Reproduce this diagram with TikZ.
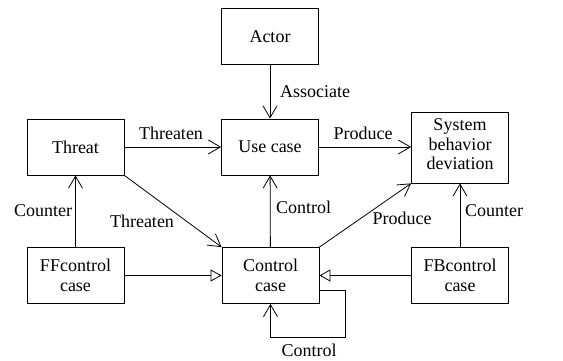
\documentclass[tikz,border=0pt]{standalone}
\usepackage{fontspec}
\setmainfont{Liberation Serif}
\usetikzlibrary{arrows.meta}

\tikzset{box/.style={draw,line width=0.8pt,minimum width=97pt,minimum height=56pt,align=center,inner sep=2pt,font=\fontsize{18}{19.5}\selectfont},
         assoc/.style={line width=0.8pt,-{Straight Barb[length=12pt,width=14pt,line width=0.8pt]}},
         gen/.style={line width=0.8pt,-{Triangle[open,length=11pt,width=12pt,line width=0.8pt]}},
         lbl/.style={inner sep=0pt,font=\fontsize{18}{19.5}\selectfont}}

\begin{document}
\begin{tikzpicture}[x=1pt,y=1pt]
                  \useasboundingbox (0,0) rectangle (563,361);
                  \node[box] (actor) at (270,324.5) {Actor};
                  \node[box] (usecase) at (270,214) {Use case};
                  \node[box] (threat) at (75.5,214) {Threat};
                  \node[box,minimum height=71pt,text depth=6pt] (deviation) at (460,213.5) {System\\behavior\\deviation};
                  \node[box] (ffctrl) at (75.5,85.5) {FFcontrol\\case};
                  \node[box] (ctrl) at (270.5,85.5) {Control\\case};
                  \node[box] (fbctrl) at (460,85.5) {FBcontrol\\case};
                  \draw[assoc] (actor) -- (usecase);
                  \draw[assoc] (threat) -- (usecase);
                  \draw[assoc] (usecase) -- (deviation.west |- usecase);
                  \draw[assoc] (threat.south east) -- (ctrl.north west);
                  \draw[assoc] (ctrl) -- (usecase);
                  \draw[assoc] (ctrl.north east) -- (deviation.south west);
                  \draw[assoc] (ffctrl) -- (threat);
                  \draw[assoc] (fbctrl) -- (deviation);
                  \draw[gen] (ffctrl) -- (ctrl);
                  \draw[gen] (fbctrl) -- (ctrl);
                  \draw[assoc] ([yshift=-14.5pt]ctrl.east) -| (345,24) -| (ctrl.south);
                  \node[lbl] (lassoc) at (315,269) {Associate};
                  \node[lbl] (lthreat) at (171,228) {Threaten};
                  \node[lbl] (lprod) at (363,228) {Produce};
                  \node[lbl] (lthreatd) at (142,140) {Threaten};
                  \node[lbl] (lctrl) at (303.5,154) {Control};
                  \node[lbl] (lprodd) at (402,143) {Produce};
                  \node[lbl] (lcountl) at (43,150) {Counter};
                  \node[lbl] (lcountr) at (494,150) {Counter};
                  \node[lbl] (lself) at (309,11) {Control};
              \end{tikzpicture}
\end{document}
